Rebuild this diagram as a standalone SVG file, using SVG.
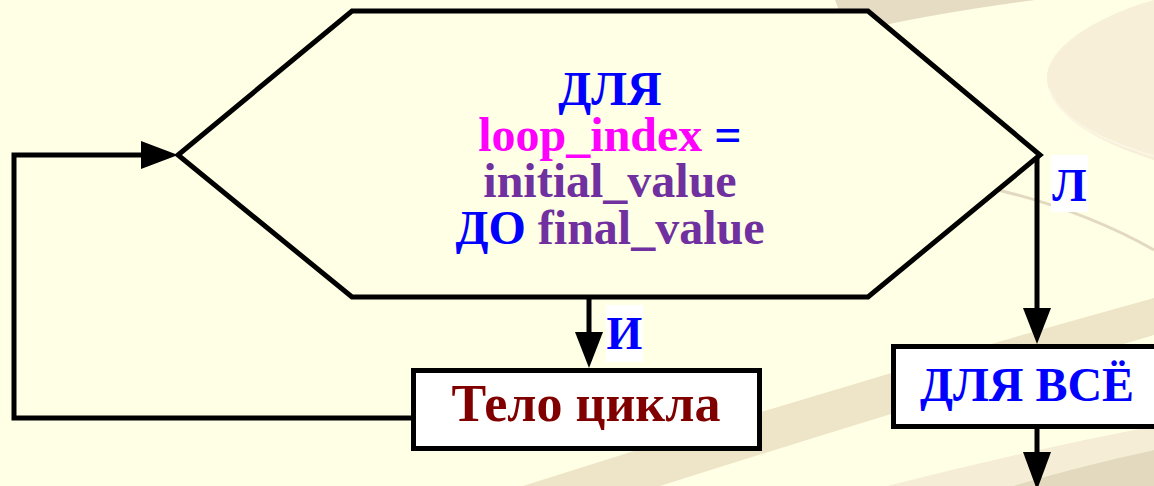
<svg xmlns="http://www.w3.org/2000/svg" width="1154" height="486" viewBox="0 0 1154 486">
  <defs>
    <style>
      .ln { fill: none; stroke: #000; stroke-width: 5; }
      .ah { fill: #000; stroke: none; }
      .box { fill: #fff; stroke: #000; stroke-width: 5; }
      .t { font-family: "Liberation Serif", "Times New Roman", serif; font-weight: bold; text-anchor: middle; }
      .blue { fill: #0000ff; }
      .mag { fill: #ff00ff; }
      .pur { fill: #7030a0; }
      .red { fill: #800000; }
      .lblbg { fill: #fff; }
    </style>
  </defs>

  <g id="background">
    <rect x="0" y="0" width="1154" height="486" fill="#ffffe5"/>
    <path d="M 835 0 L 1035 0 Q 945 12 880 26 L 850 40 Z" fill="#e6dcc3"/>
    <path d="M 1154 0 C 1100 15 1050 45 1047 75 C 1045 110 1090 140 1154 160 Z" fill="#f7efd7"/>
    <path d="M 1049 88 C 1060 120 1100 140 1154 156" fill="none" stroke="#fbf6e6" stroke-width="1.5"/>
    <path d="M 985 187 Q 1080 208 1154 250" fill="none" stroke="#e3d9c0" stroke-width="3"/>
    <path d="M 523 486 Q 840 385 1154 298 L 1154 335 Q 900 410 660 486 Z" fill="#eee4c8"/>
    <path d="M 887 486 Q 1020 452 1154 426 L 1154 450 Q 1080 466 1013 486 Z" fill="#f5edd6"/>
    <path d="M 1013 486 Q 1080 466 1154 450 L 1154 486 Z" fill="#e3d9bf"/>
  </g>

  <g id="connectors">
    <path class="ln" d="M 412 418 L 14 418 L 14 155 L 145 155"/>
    <polygon class="ah" points="141,141 178,155 141,169"/>
    <path class="ln" d="M 589 297 L 589 334"/>
    <polygon class="ah" points="575,332 603,332 589,368"/>
    <path class="ln" d="M 1037 155 L 1037 310"/>
    <polygon class="ah" points="1023,308 1051,308 1037,344"/>
    <path class="ln" d="M 1037 429 L 1037 454"/>
    <polygon class="ah" points="1023,452 1051,452 1037,490"/>
  </g>

  <g id="node-for">
    <polygon points="352,11 868,11 1040,155 868,297 352,297 178,155" fill="#ffffe5" stroke="#000" stroke-width="5" stroke-linejoin="miter"/>
    <text class="t blue" x="610" y="105" font-size="48">ДЛЯ</text>
    <text class="t" x="610" y="151" font-size="48"><tspan class="mag">loop_index</tspan><tspan class="blue"> =</tspan></text>
    <text class="t pur" x="610" y="197" font-size="48">initial_value</text>
    <text class="t" x="610" y="244" font-size="48"><tspan class="blue">ДО</tspan><tspan class="pur"> final_value</tspan></text>
  </g>

  <g id="label-true">
    <rect class="lblbg" x="606" y="305" width="37" height="57"/>
    <text class="t blue" x="624.5" y="349" font-size="46">И</text>
  </g>

  <g id="label-false">
    <rect class="lblbg" x="1051" y="155" width="37" height="57"/>
    <text class="t blue" x="1069.5" y="201" font-size="46">Л</text>
  </g>

  <g id="node-body">
    <rect class="box" x="413.5" y="370.5" width="346" height="78"/>
    <text class="t red" x="586" y="421" font-size="52">Тело цикла</text>
  </g>

  <g id="node-forall">
    <rect class="box" x="893.5" y="346.5" width="300" height="80"/>
    <text class="t blue" x="1027" y="401" font-size="48">ДЛЯ ВСЁ</text>
  </g>
</svg>
